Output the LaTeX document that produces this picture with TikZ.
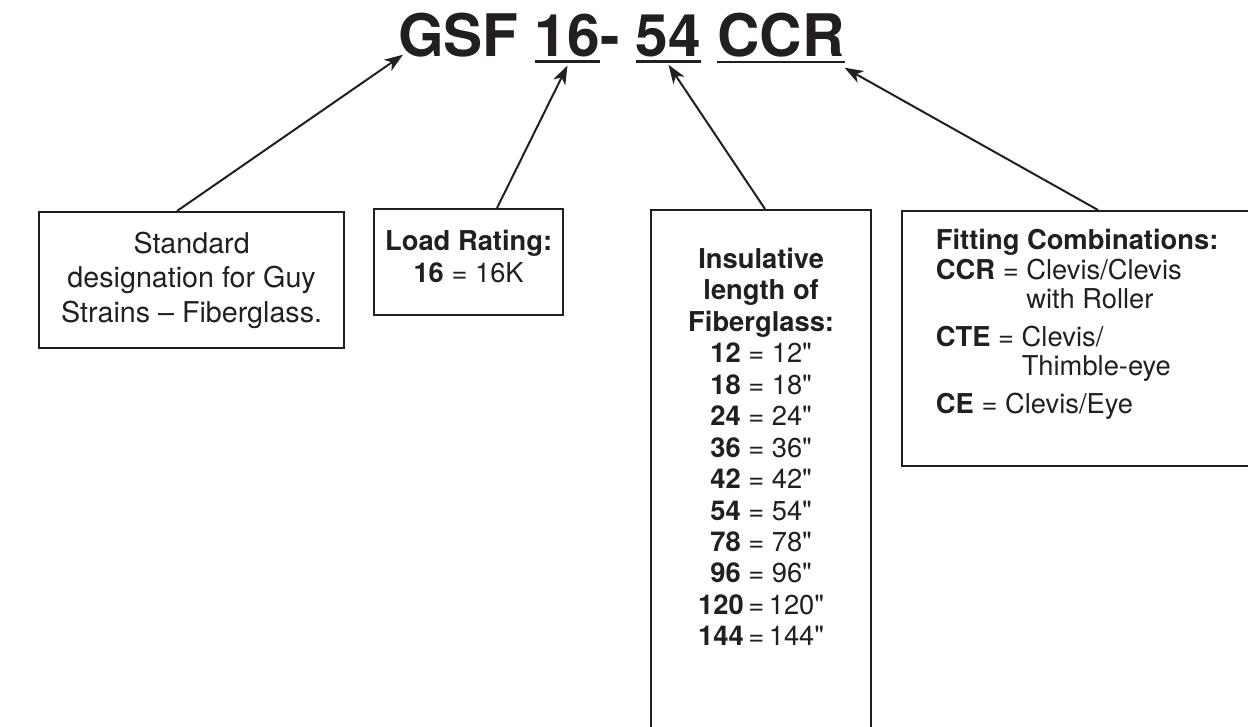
\documentclass[tikz,border=0pt]{standalone}
\usepackage{fontspec}
\setmainfont{TeX Gyre Heros}[Ligatures=TeXOff]
\usepackage{xcolor}
\usetikzlibrary{positioning,arrows.meta}
\definecolor{ink}{HTML}{231F20}

\begin{document}
\begin{tikzpicture}[x=0.75pt, y=-0.75pt,
    >={Stealth[length=14pt, width=10pt, inset=4pt]},
    code/.style={inner sep=0pt, outer sep=0pt, text=ink, font=\fontsize{44}{48}\selectfont\bfseries},
    frame/.style={draw=ink, line width=1.7pt, inner sep=0pt, text=ink, align=center},
    txt/.style={inner sep=0pt, text=ink, font=\fontsize{20.5}{#1}\selectfont},
    txt/.default=23.6pt,
    arr/.style={->, draw=ink, line width=1.5pt},
    uline/.style={draw=ink, line width=2.2pt},
]
\useasboundingbox (0,0) rectangle (1248,727);
\clip (0,0) rectangle (1248,727);

% --- Part number ---
\node[code, anchor=base west] (gsf) at (398,57) {GSF};
\node[code, base right=12.2pt of gsf] (n16) {16};
\node[code, base right=0pt of n16] (dash) {-};
\node[code, base right=12.2pt of dash] (n54) {54};
\node[code, base right=12.2pt of n54] (ccr) {CCR};

\draw[uline] ([yshift=-3.2pt]n16.south west) -- ([yshift=-3.2pt]n16.south east);
\draw[uline] ([yshift=-3.2pt]n54.south west) -- ([yshift=-3.2pt]n54.south east);
\draw[uline] ([yshift=-3.2pt]ccr.south west) -- ([yshift=-3.2pt]ccr.south east);

% --- Boxes ---
\node[frame, anchor=north west, minimum width=228.75pt, minimum height=102pt,
      font=\fontsize{21.5}{26}\selectfont] (desig) at (38,211)
      {Standard\\designation for Guy\\Strains – Fiberglass.};

\node[frame, anchor=north west, minimum width=141.75pt, minimum height=79.5pt,
      font=\fontsize{20.5}{24}\selectfont] (load) at (373,208)
      {\textbf{Load Rating:}\\\textbf{16} = 16K\rule[-8pt]{0pt}{8pt}};

\node[frame, anchor=north west, minimum width=165pt, minimum height=450pt] (len) at (650,209) {};
\node[txt, align=center, below=29pt of len.north] (lenlist)
      {\textbf{Insulative}\\\textbf{length of}\\\textbf{Fiberglass:}\\
       \textbf{12} = 12"\\\textbf{18} = 18"\\\textbf{24} = 24"\\\textbf{36} = 36"\\
       \textbf{42} = 42"\\\textbf{54} = 54"\\\textbf{78} = 78"\\\textbf{96} = 96"\\
       \textbf{120}\,=\,120"\\\textbf{144}\,=\,144"};

\node[frame, anchor=north west, minimum width=300pt, minimum height=191.25pt] (combo) at (901,210) {};
\node[txt=21.4pt, align=left, below right=14pt and 26pt of combo.north west] (combolist)
      {\textbf{Fitting Combinations:}\\[1.5pt]
       \textbf{CCR} = Clevis/Clevis\\
       \phantom{\textbf{CCR} = }with Roller\\[7.5pt]
       \textbf{CTE} = Clevis/\\
       \phantom{\textbf{CTE} = }Thimble-eye\\[7.5pt]
       \textbf{CE} = Clevis/Eye};

% --- Arrows ---
\draw[arr] ([xshift=104.25pt]desig.north west) -- ([shift={(3.75pt,2.25pt)}]gsf.south west);
\draw[arr] ([xshift=93pt]load.north west) -- ([yshift=-6pt]n16.south);
\draw[arr] ([xshift=86.25pt]len.north west) -- ([yshift=-5.5pt]n54.south);
\draw[arr] ([xshift=147.75pt]combo.north west) -- ([yshift=-7.5pt]ccr.south east);

\end{tikzpicture}
\end{document}
